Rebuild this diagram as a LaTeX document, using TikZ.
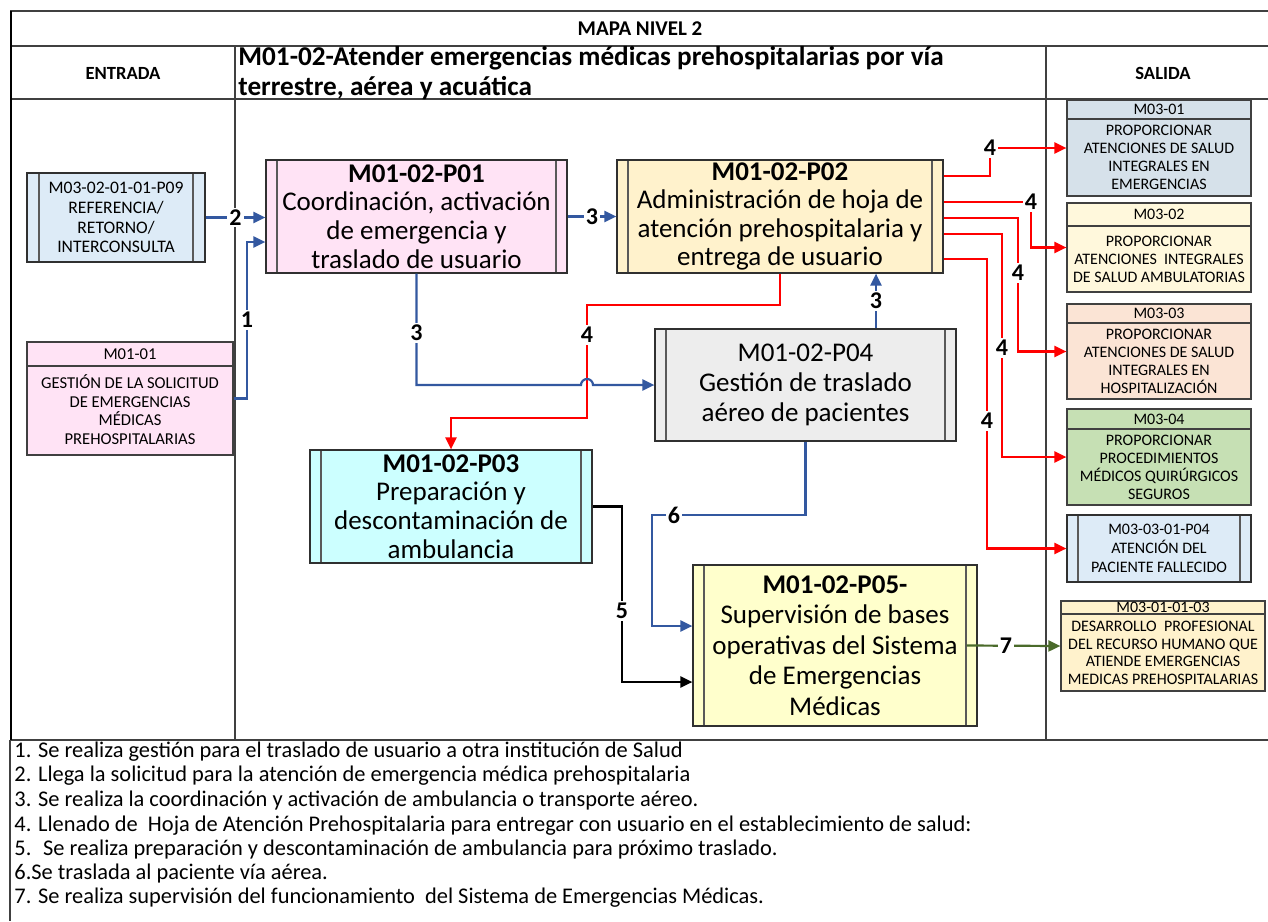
\documentclass[tikz,border=0pt]{standalone}
\usepackage{fontspec}
\setmainfont{Carlito}
\usetikzlibrary{calc,arrows.meta}
\definecolor{tl}{HTML}{404040}
\definecolor{boxline}{HTML}{303030}
\definecolor{cblue}{HTML}{DDEBF7}
\definecolor{cpink}{HTML}{FFE3F5}
\definecolor{corange}{HTML}{FFF2CC}
\definecolor{cgray}{HTML}{EDEDED}
\definecolor{ccyan}{HTML}{CCFFFF}
\definecolor{cyellow}{HTML}{FFFFCC}
\definecolor{cbluegray}{HTML}{D6E1EA}
\definecolor{cpale}{HTML}{FFF8DC}
\definecolor{cpeach}{HTML}{FBE4D5}
\definecolor{cgreen}{HTML}{C6E0B4}
\definecolor{flowblue}{HTML}{3358A0}
\definecolor{flowred}{HTML}{FF0000}
\definecolor{flowgreen}{HTML}{4A6A2A}
\tikzset{
  tline/.style={draw=tl, line width=0.6pt},
  boxbase/.style={draw=boxline, line width=0.6pt, inner sep=0pt, align=center},
  predef/.style={path picture={\draw[line width=0.6pt, draw=boxline!80]
      ([xshift=#1]path picture bounding box.north west) -- ([xshift=#1]path picture bounding box.south west)
      ([xshift=-#1]path picture bounding box.north east) -- ([xshift=-#1]path picture bounding box.south east);}},
  bigtxt/.style={font=\fontsize{13.5}{14.3}\selectfont},
  smalltxt/.style={font=\fontsize{8}{9}\selectfont, align=center, inner sep=0pt},
  flow/.style={line width=1.1pt, -{Triangle[length=6pt,width=5.5pt]}},
  bl/.style={flow, draw=flowblue},
  rd/.style={flow, draw=flowred},
  bk/.style={flow, draw=black},
  gr/.style={flow, draw=flowgreen},
  lab/.style={fill=white, inner sep=1pt, font=\bfseries\fontsize{12}{12}\selectfont},
  note/.style={anchor=base west, inner sep=0pt, font=\fontsize{11.2}{12}\selectfont}
}
\begin{document}
\begin{tikzpicture}[x=0.5pt,y=-0.5pt]
\useasboundingbox (0,0) rectangle (1268,921);
% table frame
\draw[tline] (10,11) -- (1268,11);
\draw[tline] (10,46) -- (1268,46);
\draw[tline] (10,99) -- (1268,99);
\draw[tline] (10,740) -- (1268,740);
\draw[tline] (235,46) -- (235,740);
\draw[tline] (1046,46) -- (1046,740);
\draw[line width=1pt] (11,11) -- (11,740);
\draw[tline] (10,740) -- (10,921);
% headers
\node[font=\bfseries\fontsize{10.5}{12}\selectfont] (hmapa) at (640,29) {MAPA NIVEL 2};
\node[font=\bfseries\fontsize{9.3}{11}\selectfont] (hent) at (123,73) {ENTRADA};
\node[font=\bfseries\fontsize{9.3}{11}\selectfont] (hsal) at (1163,73) {SALIDA};
\node[font=\bfseries\fontsize{13.6}{15}\selectfont, align=left, anchor=west, inner sep=0pt] (htit) at (238,73)
  {M01-02-Atender emergencias médicas prehospitalarias por vía\\terrestre, aérea y acuática};
% entrada boxes
\node[boxbase, predef=6pt, fill=cblue, minimum width=89pt, minimum height=44.5pt,
  font=\fontsize{8.8}{9.85}\selectfont] (p09) at (116,217.5)
  {M03-02-01-01-P09\\REFERENCIA/\\RETORNO/\\INTERCONSULTA};
\node[boxbase, draw=tl, fill=cpink, minimum width=103pt, minimum height=56.5pt] (m0101) at (130,398.5) {};
\coordinate (m0101h) at (130,366);
\draw[tline] (m0101.west |- m0101h) -- (m0101.east |- m0101h);
\node[smalltxt, font=\fontsize{8.3}{9.3}\selectfont] (m0101t) at (130,354) {M01-01};
\node[smalltxt, font=\fontsize{8.3}{9.3}\selectfont] (m0101b) at (130,409.5) {GESTIÓN DE LA SOLICITUD\\DE EMERGENCIAS\\MÉDICAS\\PREHOSPITALARIAS};
% process boxes
\node[boxbase, predef=5.5pt, fill=cpink, minimum width=150.5pt, minimum height=56.5pt, bigtxt] (p01) at (416.5,216.5)
  {\textbf{M01-02-P01}\\Coordinación, activación\\de emergencia y\\traslado de usuario};
\node[boxbase, predef=5.5pt, fill=corange, minimum width=163pt, minimum height=56.5pt, bigtxt] (p02) at (780,216.5)
  {\textbf{M01-02-P02}\\Administración de hoja de\\atención prehospitalaria y\\entrega de usuario};
\node[boxbase, predef=5.5pt, fill=cgray, minimum width=150.5pt, minimum height=56pt,
  font=\fontsize{13.5}{15}\selectfont] (p04) at (805.5,385)
  {M01-02-P04\\Gestión de traslado\\aéreo de pacientes};
\node[boxbase, predef=5.5pt, fill=ccyan, minimum width=141pt, minimum height=56.5pt, bigtxt] (p03) at (451,506.5)
  {\textbf{M01-02-P03}\\Preparación y\\descontaminación de\\ambulancia};
\node[boxbase, predef=5.5pt, fill=cyellow, minimum width=142pt, minimum height=80.5pt,
  font=\fontsize{13.5}{15.2}\selectfont] (p05) at (835,645.5)
  {\textbf{M01-02-P05-}\\Supervisión de bases\\operativas del Sistema\\de Emergencias\\Médicas};
% salida boxes
\node[boxbase, draw=tl, fill=cbluegray, minimum width=92pt, minimum height=48pt] (m0301) at (1159,148) {};
\coordinate (m0301h) at (1159,119);
\draw[tline] (m0301.west |- m0301h) -- (m0301.east |- m0301h);
\node[smalltxt] (m0301t) at (1159,109.5) {M03-01};
\node[smalltxt] (m0301b) at (1159,157.5) {PROPORCIONAR\\ATENCIONES DE SALUD\\INTEGRALES EN\\EMERGENCIAS};

\node[boxbase, draw=tl, fill=cpale, minimum width=92pt, minimum height=44.5pt] (m0302) at (1159,247.5) {};
\coordinate (m0302h) at (1159,226);
\draw[tline] (m0302.west |- m0302h) -- (m0302.east |- m0302h);
\node[smalltxt] (m0302t) at (1159,214.5) {M03-02};
\node[smalltxt] (m0302b) at (1159,259) {PROPORCIONAR\\ATENCIONES~ INTEGRALES\\DE SALUD AMBULATORIAS};

\node[boxbase, draw=tl, fill=cpeach, minimum width=92pt, minimum height=47.5pt] (m0303) at (1159,351.5) {};
\coordinate (m0303h) at (1159,323);
\draw[tline] (m0303.west |- m0303h) -- (m0303.east |- m0303h);
\node[smalltxt] (m0303t) at (1159,313.5) {M03-03};
\node[smalltxt] (m0303b) at (1159,361) {PROPORCIONAR\\ATENCIONES DE SALUD\\INTEGRALES EN\\HOSPITALIZACIÓN};

\node[boxbase, draw=tl, fill=cgreen, minimum width=92pt, minimum height=48pt] (m0304) at (1159,457) {};
\coordinate (m0304h) at (1159,429);
\draw[tline] (m0304.west |- m0304h) -- (m0304.east |- m0304h);
\node[smalltxt] (m0304t) at (1159,419) {M03-04};
\node[smalltxt] (m0304b) at (1159,467) {PROPORCIONAR\\PROCEDIMIENTOS\\MÉDICOS QUIRÚRGICOS\\SEGUROS};

\node[boxbase, predef=5.5pt, fill=cblue, minimum width=92pt, minimum height=33.5pt,
  font=\fontsize{8}{9.5}\selectfont] (p04f) at (1159,548.5)
  {M03-03-01-P04\\ATENCIÓN DEL\\PACIENTE FALLECIDO};

\node[boxbase, draw=tl, fill=corange, minimum width=102pt, minimum height=45pt] (m010103) at (1163,646) {};
\coordinate (m010103h) at (1163,614);
\draw[tline] (m010103.west |- m010103h) -- (m010103.east |- m010103h);
\node[smalltxt] (m010103t) at (1163,607.5) {M03-01-01-03};
\node[smalltxt, font=\fontsize{8}{8.8}\selectfont] (m010103b) at (1163,653) {DESARROLLO~ PROFESIONAL\\DEL RECURSO HUMANO QUE\\ATIENDE EMERGENCIAS\\MEDICAS PREHOSPITALARIAS};

% connectors
\draw[bl] (p09.east) -- node[lab]{2} (p09.east -| p01.west);
\draw[bl] (m0101.east) -- (247,398.5) |- ($(p01.west)+(0,25.5)$);
\node[lab] (l1) at (247,320) {1};
\draw[bl] (p01.east) -- node[lab]{3} (p02.west);
% red 4 to P03
\draw[rd] (p02.south) |- (587,305) -- (587,418) -| (p03.north);
\node[lab] (l4a) at (587,335) {4};
% blue 3 to P04 with hop
\draw[bl] (p01.south) |- (581,385) arc[start angle=180, end angle=360, radius=6] -- (p04.west);
\node[lab] (l3b) at (416.5,333) {3};
\draw[bl] ($(p04.north)+(70.5,0)$) -- node[lab]{3} ($(p02.south)+(96,0)$);
% red outputs
\draw[rd] ($(p02.east)+(0,-40.5)$) -| (990,148) -- (m0301.west);
\node[lab] (l4o1) at (990,148) {4};
\draw[rd] ($(p02.east)+(0,-14.5)$) -- (1031,202) |- (m0302.west);
\node[lab] (l4o2) at (1031,202) {4};
\draw[rd] ($(p02.east)+(0,1.5)$) -- (1018,218) |- (m0303.west);
\node[lab] (l4o3) at (1018,273) {4};
\draw[rd] ($(p02.east)+(0,17.5)$) -- (1002,234) |- (m0304.west);
\node[lab] (l4o4) at (1002,348) {4};
\draw[rd] ($(p02.east)+(0,42.5)$) -- (987,259) |- (p04f.west);
\node[lab] (l4o5) at (987,421) {4};
% 5, 6, 7
\draw[bk] (p03.east) -- (622,506.5) |- ($(p05.west)+(0,36.5)$);
\node[lab] (l5) at (622,611) {5};
\draw[bl] (p04.south) |- (652,515) |- ($(p05.west)+(0,-19.5)$);
\node[lab] (l6) at (674,515) {6};
\draw[gr] ($(p05.east)+(-11,0)$) -- (m010103.west);
\node[lab] (l7) at (1006,646) {7};
% notes
\node[note] (n1) at (14,757) {1. Se realiza gestión para el traslado de usuario a otra institución de Salud};
\node[note] (n2) at (14,781) {2. Llega la solicitud para la atención de emergencia médica prehospitalaria};
\node[note] (n3) at (14,806) {3. Se realiza la coordinación y activación de ambulancia o transporte aéreo.};
\node[note] (n4) at (14,831) {4. Llenado de~ Hoja de Atención Prehospitalaria para entregar con usuario en el establecimiento de salud:};
\node[note] (n5) at (14,855) {5.~ Se realiza preparación y descontaminación de ambulancia para próximo traslado.};
\node[note] (n6) at (14,879) {6.Se traslada al paciente vía aérea.};
\node[note] (n7) at (14,903) {7. Se realiza supervisión del funcionamiento~ del Sistema de Emergencias Médicas.};
\end{tikzpicture}
\end{document}
